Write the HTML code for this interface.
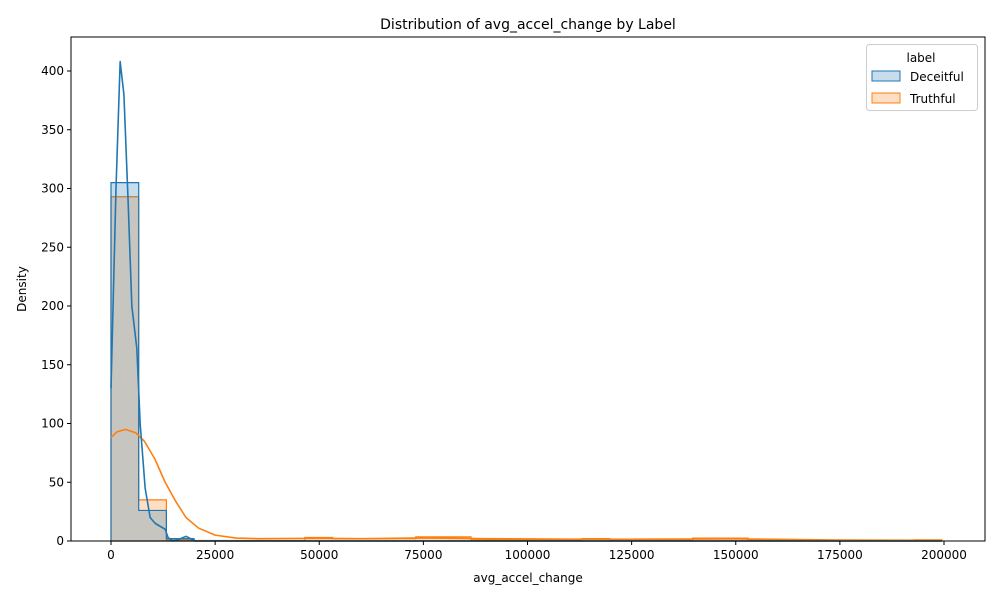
<!DOCTYPE html>
<html><head><meta charset="utf-8"><style>
body{margin:0;background:#fff;font-family:"DejaVu Sans","Liberation Sans",sans-serif}
svg text{font-family:"DejaVu Sans","Liberation Sans",sans-serif;fill:#000}
</style></head><body>
<svg id="c" width="1000" height="600" xmlns="http://www.w3.org/2000/svg"></svg>
<script>
const binWidth = 6650;
const decBins = [305,26,2,0,0,0,0,0,0,0,0,0,0,0,0,0,0,0,0,0,0,0,0,0,0,0,0,0,0,0];
const truBins = [293,35,1,0.5,0.5,0.5,0.5,3,2,2,2,3.5,3.5,1,1,1,1,2,1,1,1,2.5,2.5,1,0.5,0.5,0.5,0.5,0.5,1];
const decKdeX = [0,1200,2200,3100,4100,5000,6200,7000,8200,9400,10600,13000,13700,14900,16000,18000,20200,30000,100000,199500];
const decKdeY = [130,300,408,380,290,200,164,100,45,20,15,10,3,0,1,4,0,0,0,0];
const truKdeX = [0,1500,3500,6000,8000,10500,13000,15500,18000,21000,25000,30000,35000,50000,60000,75000,90000,110000,125000,150000,175000,199500];
const truKdeY = [88,93,95,92,85,70,50,34,20,11,5,2.5,2,2.3,2,2.6,2,1.6,1.5,1.8,0.8,0.6];
const xTicks = [0,25000,50000,75000,100000,125000,150000,175000,200000];
const yTicks = [0,50,100,150,200,250,300,350,400];

const svg = document.getElementById('c');
const NS = 'http://www.w3.org/2000/svg';
const L=71,R=985,T=37,B=541;
const xs = v => 111 + v*(833/200000);
const ys = v => 541 - v*1.175;
function mk(tag, attrs, parent){const e=document.createElementNS(NS,tag);for(const k in attrs)e.setAttribute(k,attrs[k]);(parent||svg).appendChild(e);return e;}

function stepPath(bins){
  let d=`M${xs(0)},${ys(0)}`;
  bins.forEach((v,i)=>{d+=` L${xs(i*binWidth)},${ys(v)} L${xs((i+1)*binWidth)},${ys(v)}`;});
  d+=` L${xs(bins.length*binWidth)},${ys(0)}`;
  return d;
}
const h2 = mk('path',{d:stepPath(truBins)+' Z',fill:'rgba(255,127,14,0.25)',stroke:'#ff7f0e','stroke-width':1.2});


const h1 = mk('path',{d:stepPath(decBins)+' Z',fill:'rgba(31,119,180,0.25)',stroke:'#1f77b4','stroke-width':1.2});


function line(xa,ya){return xa.map((x,i)=>(i?'L':'M')+xs(x)+','+ys(ya[i])).join(' ');}
const k2 = mk('path',{d:line(truKdeX,truKdeY),fill:'none',stroke:'#ff7f0e','stroke-width':1.6,'stroke-linejoin':'round'});


const k1 = mk('path',{d:line(decKdeX,decKdeY),fill:'none',stroke:'#1f77b4','stroke-width':1.6,'stroke-linejoin':'round'});



const fr = mk('rect',{x:L,y:T,width:R-L,height:B-T,fill:'none',stroke:'#000','stroke-width':1});


xTicks.forEach(v=>{
  mk('line',{x1:xs(v),x2:xs(v),y1:B,y2:B+4,stroke:'#000'});
  const t=mk('text',{x:xs(v),y:B+18,'text-anchor':'middle','font-size':12});t.textContent=v;
  
  
});
yTicks.forEach(v=>{
  mk('line',{x1:L-4,x2:L,y1:ys(v),y2:ys(v),stroke:'#000'});
  const t=mk('text',{x:L-7,y:ys(v)+4,'text-anchor':'end','font-size':12});t.textContent=v;
  
  
});
</script>
<svg width="1000" height="600" style="position:absolute;left:0;top:0" xmlns="http://www.w3.org/2000/svg">
<text x="528" y="29" text-anchor="middle" font-size="14">Distribution of avg_accel_change by Label</text>
<text x="528" y="582" text-anchor="middle" font-size="12">avg_accel_change</text>
<text x="26" y="289" text-anchor="middle" font-size="12" transform="rotate(-90 26 289)">Density</text>
<g>
<rect x="866.5" y="44.5" width="111" height="66" rx="3" fill="#fff" fill-opacity="0.8" stroke="#ccc"/>
<text x="921" y="62" text-anchor="middle" font-size="12">label</text>
<rect x="872" y="71" width="28" height="10" fill="rgba(31,119,180,0.25)" stroke="#1f77b4"/>
<text x="910" y="81" font-size="12">Deceitful</text>
<rect x="872" y="93" width="28" height="10" fill="rgba(255,127,14,0.25)" stroke="#ff7f0e"/>
<text x="910" y="103" font-size="12">Truthful</text>
</g>
</svg>
</body></html>
